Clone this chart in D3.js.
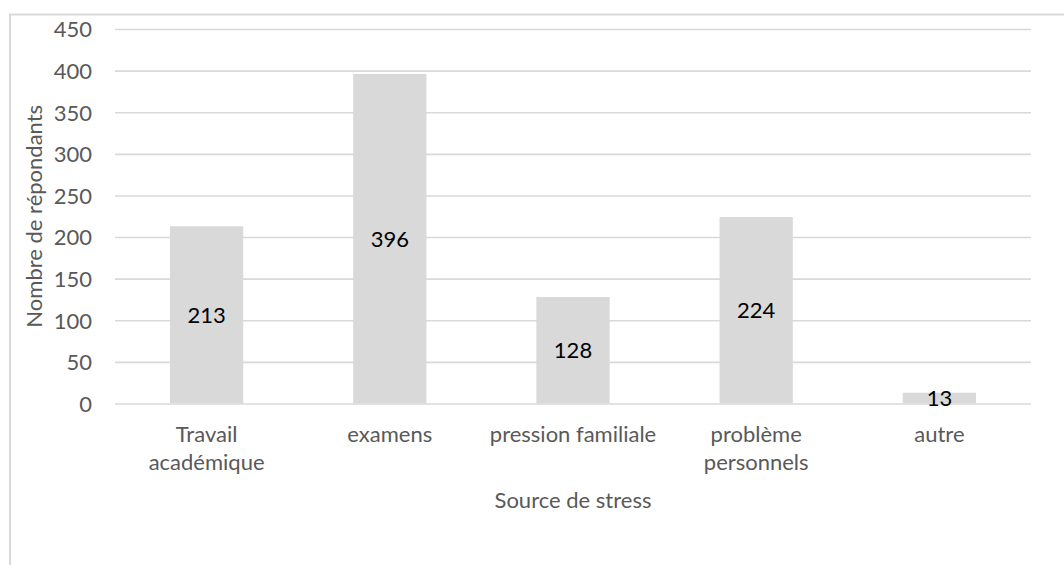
<!DOCTYPE html>
<html>
<head>
<meta charset="utf-8">
<script src="https://cdn.jsdelivr.net/npm/d3@7"></script>
<style>
  html, body { margin: 0; padding: 0; background: #fff; }
  svg { display: block; }
  text { font-family: Lato, "Open Sans", sans-serif; }
</style>
</head>
<body>
<svg id="chart" width="1064" height="565"></svg>
<script>
// Sources de stress déclarées et nombre de répondants
const categories = ["Travail académique", "examens", "pression familiale", "problème personnels", "autre"];
const respondents = [213, 396, 128, 224, 13];
const yTicks = [0, 50, 100, 150, 200, 250, 300, 350, 400, 450];
const xTitle = "Source de stress";
const yTitle = "Nombre de répondants";

const W = 1064, H = 565;
const plot = { left: 115, right: 1031, top: 29, bottom: 403.5 };
const grid = "#d9d9d9", axisText = "#595959", barFill = "#d9d9d9";
const fontSize = 22;

const svg = d3.select("#chart");
svg.append("rect").attr("width", W).attr("height", H).attr("fill", "#fff");

// chart frame (only its left and top edges fall inside the view)
svg.append("rect")
  .attr("x", 10).attr("y", 14.5)
  .attr("width", 1200).attr("height", 700)
  .attr("fill", "none").attr("stroke", grid).attr("stroke-width", 2);

const x = d3.scaleBand()
  .domain(categories)
  .range([plot.left, plot.right])
  .paddingInner(0.6)
  .paddingOuter(0.3);

const y = d3.scaleLinear()
  .domain([0, 450])
  .range([plot.bottom, plot.top]);

// value axis with horizontal gridlines
const yAxis = svg.append("g")
  .attr("transform", `translate(${plot.left},0)`)
  .call(d3.axisLeft(y)
    .tickValues(yTicks)
    .tickSize(-(plot.right - plot.left))
    .tickPadding(23)
    .tickFormat(d3.format("d")));
yAxis.select(".domain").remove();
yAxis.selectAll(".tick line").attr("stroke", grid).attr("stroke-width", 1.6);
yAxis.selectAll(".tick text")
  .attr("fill", axisText)
  .attr("font-size", fontSize)
  .attr("font-family", "Lato, sans-serif")
  .attr("dy", "0.36em");

// bars
svg.append("g").selectAll("rect")
  .data(categories)
  .join("rect")
  .attr("x", d => x(d))
  .attr("width", x.bandwidth())
  .attr("y", (d, i) => y(respondents[i]))
  .attr("height", (d, i) => y(0) - y(respondents[i]))
  .attr("fill", barFill);

// value labels centred inside each bar
svg.append("g").selectAll("text")
  .data(categories)
  .join("text")
  .attr("x", d => x(d) + x.bandwidth() / 2)
  .attr("y", (d, i) => (y(respondents[i]) + y(0)) / 2)
  .attr("dy", "0.36em")
  .attr("text-anchor", "middle")
  .attr("font-size", fontSize)
  .attr("fill", "#000")
  .text((d, i) => respondents[i]);

// category labels, wrapped to the category width (with a small inner margin)
const xAxis = svg.append("g")
  .attr("transform", `translate(0,${plot.bottom})`)
  .call(d3.axisBottom(x).tickSize(0).tickPadding(0));
xAxis.select(".domain").remove();
xAxis.selectAll(".tick text").each(function (d) {
  const t = d3.select(this);
  t.text(null)
    .attr("y", 0).attr("dy", null)
    .attr("fill", axisText)
    .attr("font-size", fontSize)
    .attr("font-family", "Lato, sans-serif");
  const maxW = x.step() * 0.94;
  const words = d.split(" ");
  const lines = [];
  let line = [];
  const probe = t.append("tspan");
  words.forEach(w => {
    const trial = line.concat(w).join(" ");
    probe.text(trial);
    if (line.length && probe.node().getComputedTextLength() > maxW) {
      lines.push(line.join(" "));
      line = [w];
    } else {
      line.push(w);
    }
  });
  lines.push(line.join(" "));
  probe.remove();
  lines.forEach((l, i) => {
    t.append("tspan").attr("x", 0).attr("y", 38.5 + i * 28).text(l);
  });
});

// axis titles
svg.append("text")
  .attr("x", (plot.left + plot.right) / 2)
  .attr("y", 508)
  .attr("text-anchor", "middle")
  .attr("font-size", fontSize)
  .attr("fill", axisText)
  .text(xTitle);

svg.append("text")
  .attr("transform", `translate(42,${(plot.top + plot.bottom) / 2}) rotate(-90)`)
  .attr("text-anchor", "middle")
  .attr("font-size", fontSize)
  .attr("fill", axisText)
  .text(yTitle);
</script>
</body>
</html>
